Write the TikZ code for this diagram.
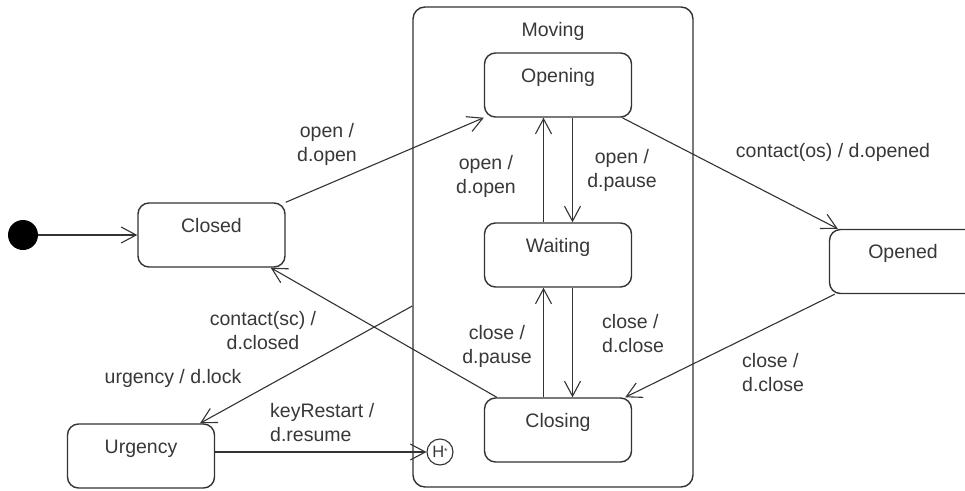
\documentclass[tikz,border=0pt]{standalone}
\usepackage{fontspec}
\setmainfont{Liberation Sans}
\usepackage{xcolor}
\usetikzlibrary{arrows.meta}
\definecolor{bg}{HTML}{FFFFFF}
\definecolor{line}{HTML}{333333}
\definecolor{text}{HTML}{383838}
\tikzset{
  state/.style={draw=line, line width=1.4pt, rounded corners=11pt, minimum width=147pt,
    inner xsep=0pt, inner ysep=0pt, text height=29pt, text depth=35pt, text=text,
    font=\fontsize{19.5}{24}\selectfont},
  super/.style={state, minimum width=280pt, text depth=451pt, rounded corners=12pt},
  hist/.style={circle, draw=line, line width=1.1pt, minimum size=26pt, inner sep=0pt,
    text=text, font=\fontsize{16.5}{18}\selectfont},
  dot/.style={circle, fill=black, minimum size=30pt, inner sep=0pt},
  tr/.style={draw=line, line width=1.1pt, -{Straight Barb[length=15pt,width=16pt]}},
  lab/.style={text=text, inner sep=0pt, align=center, font=\fontsize{19.5}{24}\selectfont},
  labl/.style={lab, align=left, anchor=west},
}
\begin{document}
\begin{tikzpicture}[x=1pt, y=-1pt]
  \useasboundingbox[fill=bg] (0,0) rectangle (965,490);
  \node[super] (Mov) at (553,247) {Moving};
  \node[dot] (I) at (23,235) {};
  \node[state] (Closed) at (211.5,235) {Closed};
  \node[state] (Opening) at (558,85) {Opening};
  \node[state] (Waiting) at (558,255) {Waiting};
  \node[state] (Closing) at (558,430) {Closing};
  \node[state] (Opened) at (903,261.5) {Opened};
  \node[state] (Urg) at (141,456) {Urgency};
  \node[hist] (H) at (440,452) {H\raisebox{3.5pt}{\fontsize{9}{9}\selectfont *}};

  \draw[tr] (I) -- (Closed);
  \draw[tr] (Closed.north east) -- (Opening.south west);
  \draw[tr] ([xshift=14.5pt]Opening.south) -- ([xshift=14.5pt]Waiting.north);
  \draw[tr] ([xshift=-14.5pt]Waiting.north) -- ([xshift=-14.5pt]Opening.south);
  \draw[tr] ([xshift=14.5pt]Waiting.south) -- ([xshift=14.5pt]Closing.north);
  \draw[tr] ([xshift=-14.5pt]Closing.north) -- ([xshift=-14.5pt]Waiting.south);
  \draw[tr] ([xshift=-10pt]Opening.south east) -- ([xshift=9pt]Opened.north west);
  \draw[tr] ([xshift=6pt]Opened.south west) -- ([xshift=-7pt]Closing.north east);
  \draw[tr] ([xshift=13pt]Closing.north west) -- ([xshift=-15pt]Closed.south east);
  \draw[tr] ([yshift=-59pt]Mov.west) -- ([xshift=59pt]Urg.north);
  \draw[tr] (Urg.east |- H.west) -- (H.west);

  \node[lab] (l1) at (327,144) {open /\\d.open};
  \node[lab] (l2) at (486,176) {open /\\d.open};
  \node[lab] (l3) at (622,170) {open /\\d.pause};
  \node[lab] (l4) at (497,346) {close /\\d.pause};
  \node[labl] (l5) at (602,334) {close /\\d.close};
  \node[lab] (l6) at (833,152) {contact(os) / d.opened};
  \node[labl] (l7) at (742,373) {close /\\d.close};
  \node[lab] (l8) at (263,331) {contact(sc) /\\d.closed};
  \node[lab] (l9) at (173,378) {urgency / d.lock};
  \node[labl] (l10) at (270,423) {keyRestart /\\d.resume};
\end{tikzpicture}
\end{document}
